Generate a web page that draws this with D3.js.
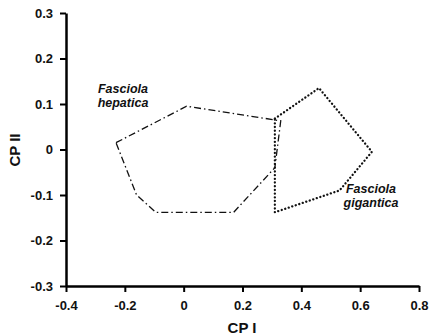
<!DOCTYPE html>
<html>
<head>
<meta charset="utf-8">
<script src="https://cdn.jsdelivr.net/npm/d3@7"></script>
<style>
  body { margin: 0; background: #fff; }
  svg text { font-family: "Liberation Sans", Arial, sans-serif; font-weight: bold; fill: #111; }
</style>
</head>
<body>
<svg id="chart" width="431" height="335"></svg>
<script>
// polygon outlines, CP I / CP II
var hepaticaX = [-0.23, 0.01, 0.33, 0.31, 0.17, -0.095, -0.16];
var hepaticaY = [0.015, 0.095, 0.063, -0.04, -0.138, -0.138, -0.1];
var giganticaX = [0.31, 0.46, 0.64, 0.53, 0.31];
var giganticaY = [0.068, 0.135, -0.005, -0.09, -0.138];

var xTicks = [-0.4, -0.2, 0, 0.2, 0.4, 0.6, 0.8];
var yTicks = [-0.3, -0.2, -0.1, 0, 0.1, 0.2, 0.3];

var svg = d3.select('#chart');
var x = d3.scaleLinear().domain([-0.4, 0.8]).range([66, 419]);
var y = d3.scaleLinear().domain([-0.3, 0.3]).range([286, 13]);

// plain hyphen for negatives, like the original
function fmt(d) { return d === 0 ? '0' : (d < 0 ? '-' : '') + Math.abs(d).toFixed(1); }

var xAxis = svg.append('g')
  .attr('transform', 'translate(0,' + y(-0.3) + ')')
  .call(d3.axisBottom(x).tickValues(xTicks).tickFormat(fmt).tickSize(6).tickSizeOuter(0).tickPadding(9));
var yAxis = svg.append('g')
  .attr('transform', 'translate(' + x(-0.4) + ',0)')
  .call(d3.axisLeft(y).tickValues(yTicks).tickFormat(fmt).tickSize(6).tickSizeOuter(0).tickPadding(7));

[xAxis, yAxis].forEach(function(a){
  a.select('.domain').attr('stroke', '#000').attr('stroke-width', 2.5);
  a.selectAll('.tick line').attr('stroke', '#000').attr('stroke-width', 2);
  a.selectAll('.tick text').attr('font-size', 13).attr('font-family', '"Liberation Sans", Arial, sans-serif').attr('font-weight', 'bold').attr('fill', '#111');
});

var line = d3.line().x(function(d){ return x(d[0]); }).y(function(d){ return y(d[1]); }).curve(d3.curveLinearClosed);

svg.append('path')
  .datum(d3.zip(hepaticaX, hepaticaY))
  .attr('d', line)
  .attr('fill', 'none')
  .attr('stroke', '#111')
  .attr('stroke-width', 1.3)
  .attr('stroke-dasharray', '7,3,1.5,3');

svg.append('path')
  .datum(d3.zip(giganticaX, giganticaY))
  .attr('d', line)
  .attr('fill', 'none')
  .attr('stroke', '#111')
  .attr('stroke-width', 2.3)
  .attr('stroke-linecap', 'round')
  .attr('stroke-dasharray', '0.1,3.6');

// species labels
function label(cx, y1, lines) {
  var t = svg.append('text').attr('text-anchor', 'middle').attr('font-size', 12.5).attr('font-style', 'italic');
  lines.forEach(function(s, i){
    t.append('tspan').attr('x', cx).attr('y', y1 + i * 14).text(s);
  });
}
label(123, 93, ['Fasciola', 'hepatica']);
label(371, 193, ['Fasciola', 'gigantica']);

// axis titles
svg.append('text').attr('x', 242).attr('y', 333).attr('text-anchor', 'middle').attr('font-size', 15).text('CP I');
svg.append('text').attr('transform', 'translate(20,150) rotate(-90)').attr('text-anchor', 'middle').attr('font-size', 15).text('CP II');
</script>
</body>
</html>
